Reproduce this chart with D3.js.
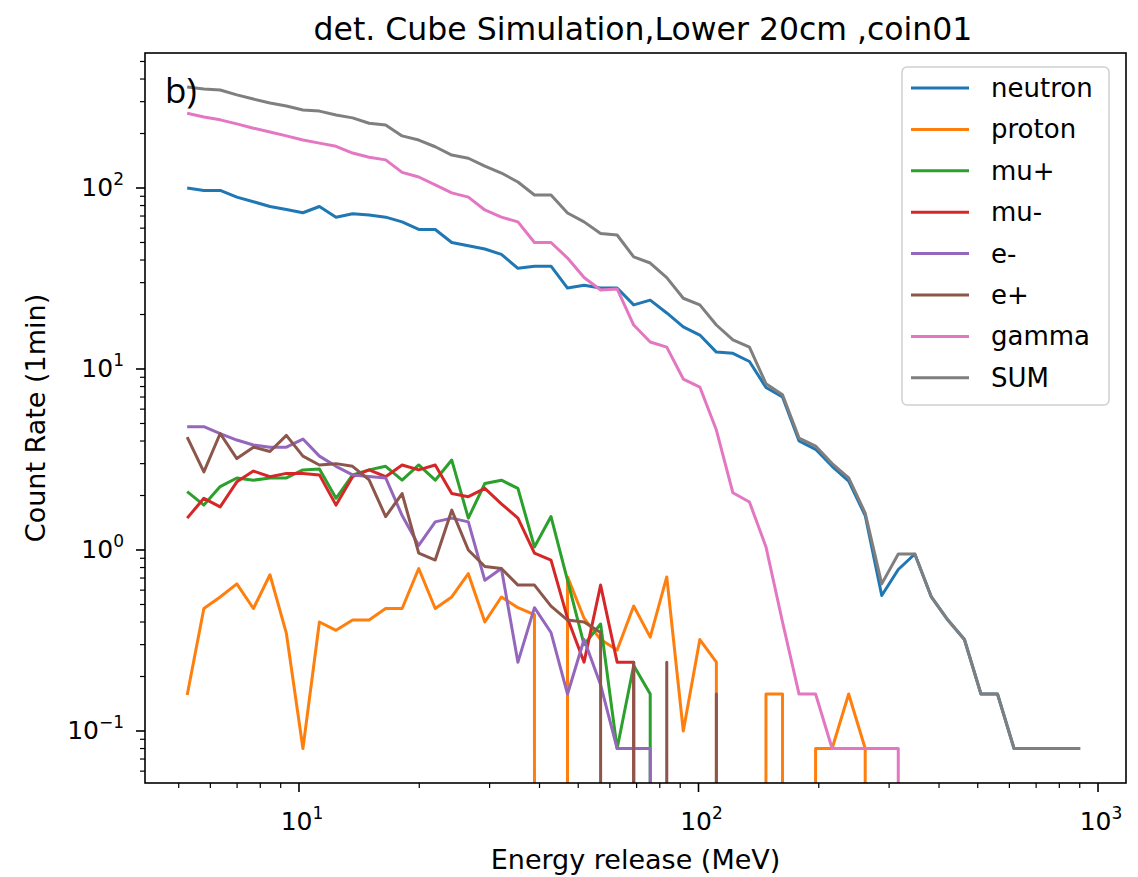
<!DOCTYPE html>
<html>
<head>
<meta charset="utf-8">
<script src="https://cdnjs.cloudflare.com/ajax/libs/d3/7.8.5/d3.min.js"></script>
<style>
  body { margin: 0; background: #fff; }
  text { font-family: "DejaVu Sans", sans-serif; fill: #000; }
</style>
</head>
<body>
<svg id="chart" width="1138" height="877"></svg>
<script>
// Energy bins (MeV)
const energy = [5.25, 5.78, 6.35, 6.99, 7.69, 8.46, 9.30, 10.23, 11.25, 12.38,
  13.62, 14.98, 16.48, 18.12, 19.94, 21.93, 24.12, 26.54, 29.19, 32.11,
  35.32, 38.85, 42.74, 47.01, 51.71, 56.88, 62.57, 68.83, 75.71, 83.28,
  91.61, 100.77, 110.85, 121.93, 134.13, 147.54, 162.29, 178.52, 196.37, 216.01,
  237.61, 261.37, 287.51, 316.26, 347.89, 382.68, 420.94, 463.04, 509.34, 560.27,
  616.30, 677.93, 745.73, 820.30, 902.33];

// Count rates per particle (0 = no counts, drawn off the bottom like matplotlib)
const neutron = [100, 97, 97, 89, 84, 79, 76, 73, 79, 69,
  72, 71, 69, 65, 59, 59, 50, 48, 46, 43,
  36, 37, 37, 28, 29, 28, 28, 22.6, 24, 20.4,
  17.1, 15.4, 12.4, 12.2, 11, 7.9, 7.0, 4.0, 3.6, 2.9,
  2.4, 1.55, 0.56, 0.78, 0.95, 0.55, 0.41, 0.32, 0.16, 0.16,
  0.08, 0.08, 0.08, 0.08, 0.08];
const proton = [0.158, 0.475, 0.55, 0.65, 0.475, 0.73, 0.346, 0.08, 0.40, 0.36,
  0.41, 0.41, 0.475, 0.475, 0.79, 0.475, 0.55, 0.74, 0.40, 0.55,
  0.48, 0.44, 0, 0.71, 0.42, 0.32, 0.28, 0.49, 0.33, 0.71,
  0.1, 0.32, 0.24, 0, 0, 0.16, 0.16, 0, 0.08, 0.08,
  0.16, 0.08, 0, 0, 0, 0, 0, 0, 0, 0,
  0, 0, 0, 0, 0];
const muPlus = [2.1, 1.77, 2.24, 2.5, 2.43, 2.5, 2.5, 2.77, 2.8, 1.93,
  2.6, 2.77, 2.9, 2.43, 2.95, 2.43, 3.14, 1.5, 2.33, 2.43,
  2.19, 1.04, 1.53, 0.68, 0.30, 0.39, 0.08, 0.23, 0.16, 0,
  0, 0, 0, 0, 0, 0, 0, 0, 0, 0,
  0, 0, 0, 0, 0, 0, 0, 0, 0, 0,
  0, 0, 0, 0, 0];
const muMinus = [1.5, 1.93, 1.73, 2.38, 2.73, 2.54, 2.65, 2.65, 2.6, 1.77,
  2.54, 2.77, 2.54, 2.95, 2.77, 2.95, 2.05, 1.97, 2.19, 1.8,
  1.5, 0.96, 0.88, 0.42, 0.24, 0.64, 0.24, 0.24, 0, 0,
  0, 0, 0, 0, 0, 0, 0, 0, 0, 0,
  0, 0, 0, 0, 0, 0, 0, 0, 0, 0,
  0, 0, 0, 0, 0];
const eMinus = [4.8, 4.8, 4.4, 4.05, 3.8, 3.7, 3.7, 4.1, 3.3, 2.9,
  2.6, 2.55, 2.5, 1.55, 1.06, 1.43, 1.5, 1.43, 0.68, 0.79,
  0.24, 0.48, 0.35, 0.16, 0.32, 0.18, 0.08, 0.08, 0.08, 0,
  0, 0, 0, 0, 0, 0, 0, 0, 0, 0,
  0, 0, 0, 0, 0, 0, 0, 0, 0, 0,
  0, 0, 0, 0, 0];
const ePlus = [4.2, 2.7, 4.4, 3.2, 3.7, 3.5, 4.3, 3.3, 2.95, 3.0,
  2.9, 2.44, 1.53, 2.05, 0.96, 0.88, 1.66, 1.0, 0.81, 0.79,
  0.64, 0.64, 0.49, 0.41, 0.40, 0.35, 0, 0.24, 0, 0.24,
  0, 0, 0.16, 0, 0, 0, 0, 0, 0, 0,
  0, 0, 0, 0, 0, 0, 0, 0, 0, 0,
  0, 0, 0, 0, 0];
const gamma = [259, 247, 238, 226, 214, 204, 194, 184, 177, 170,
  156, 148, 143, 122, 115, 104, 94, 89, 75.6, 69,
  65, 50, 50, 41, 32, 27.3, 27.7, 17.5, 14.1, 13.2,
  8.8, 7.95, 4.6, 2.07, 1.84, 1.04, 0.4, 0.16, 0.16, 0.08,
  0.08, 0.08, 0.08, 0.08, 0, 0, 0, 0, 0, 0,
  0, 0, 0, 0, 0];
const total = [361, 352, 348, 327, 310, 295, 284, 270, 266, 253,
  244, 228, 223, 194, 184, 169, 152, 146, 132, 121,
  108, 91.5, 91.5, 72.8, 65, 56, 55, 41.6, 38.5, 32,
  24.6, 22.6, 17.5, 14.5, 13.2, 8.3, 7.2, 4.15, 3.75, 3.0,
  2.5, 1.6, 0.65, 0.95, 0.95, 0.55, 0.41, 0.32, 0.16, 0.16,
  0.08, 0.08, 0.08, 0.08, 0.08];

const labels = ["neutron", "proton", "mu+", "mu-", "e-", "e+", "gamma", "SUM"];
const colors = ["#1f77b4", "#ff7f0e", "#2ca02c", "#d62728", "#9467bd", "#8c564b", "#e377c2", "#7f7f7f"];
const seriesValues = [neutron, proton, muPlus, muMinus, eMinus, ePlus, gamma, total];

const xMajor = [10, 100, 1000];
const xMajorExp = ["1", "2", "3"];
const yMajor = [0.1, 1, 10, 100];
const yMajorExp = ["\u22121", "0", "1", "2"];

// plot box
const plotLeft = 145, plotRight = 1126, plotTop = 53, plotBottom = 783;

const svg = d3.select("#chart");

const x = d3.scaleLog().domain([4.117, 1175]).range([plotLeft, plotRight]);
const y = d3.scaleLog().domain([0.0516, 557]).range([plotBottom, plotTop]);

svg.append("defs").append("clipPath").attr("id", "plot-clip")
  .append("rect")
  .attr("x", plotLeft).attr("y", plotTop)
  .attr("width", plotRight - plotLeft).attr("height", plotBottom - plotTop);

// zero counts go far below the axis (log scale clipping)
const line = d3.line()
  .x((d, i) => x(energy[i]))
  .y(d => d > 0 ? y(d) : plotBottom + 100000);

const lines = svg.append("g").attr("clip-path", "url(#plot-clip)");
seriesValues.forEach((vals, k) => {
  lines.append("path")
    .datum(vals)
    .attr("d", line)
    .attr("fill", "none")
    .attr("stroke", colors[k])
    .attr("stroke-width", 3)
    .attr("stroke-linejoin", "round");
});

// frame
svg.append("rect")
  .attr("x", plotLeft).attr("y", plotTop)
  .attr("width", plotRight - plotLeft).attr("height", plotBottom - plotTop)
  .attr("fill", "none").attr("stroke", "#000").attr("stroke-width", 1.6);

// minor ticks
const xMinor = [];
const yMinor = [];
[1, 10, 100, 1000].forEach(p => d3.range(2, 10).forEach(m => {
  const v = m * p;
  if (v > x.domain()[0] && v < x.domain()[1]) xMinor.push(v);
}));
[0.01, 0.1, 1, 10, 100].forEach(p => d3.range(2, 10).forEach(m => {
  const v = m * p;
  if (v > y.domain()[0] && v < y.domain()[1]) yMinor.push(v);
}));

const ticks = svg.append("g").attr("stroke", "#000");
xMinor.forEach(v => ticks.append("line")
  .attr("x1", x(v)).attr("x2", x(v)).attr("y1", plotBottom).attr("y2", plotBottom + 5)
  .attr("stroke-width", 1.2));
xMajor.forEach(v => ticks.append("line")
  .attr("x1", x(v)).attr("x2", x(v)).attr("y1", plotBottom).attr("y2", plotBottom + 9)
  .attr("stroke-width", 1.6));
yMinor.forEach(v => ticks.append("line")
  .attr("y1", y(v)).attr("y2", y(v)).attr("x1", plotLeft).attr("x2", plotLeft - 5)
  .attr("stroke-width", 1.2));
yMajor.forEach(v => ticks.append("line")
  .attr("y1", y(v)).attr("y2", y(v)).attr("x1", plotLeft).attr("x2", plotLeft - 9)
  .attr("stroke-width", 1.6));

// tick labels like 10^n
function powLabel(px, py, exp, anchor) {
  const t = svg.append("text")
    .attr("x", px).attr("y", py)
    .attr("text-anchor", anchor)
    .style("font-size", "25px");
  t.append("tspan").text("10");
  t.append("tspan").attr("dy", -11).style("font-size", "17px").text(exp);
}
xMajor.forEach((v, i) => powLabel(x(v) + 3, plotBottom + 47, xMajorExp[i], "middle"));
yMajor.forEach((v, i) => powLabel(plotLeft - 21, y(v) + 8, yMajorExp[i], "end"));

// titles
svg.append("text")
  .attr("x", 643).attr("y", 40)
  .attr("text-anchor", "middle")
  .style("font-size", "31.5px")
  .text("det. Cube Simulation,Lower 20cm ,coin01");

svg.append("text")
  .attr("x", (plotLeft + plotRight) / 2).attr("y", 869)
  .attr("text-anchor", "middle")
  .style("font-size", "27px")
  .text("Energy release (MeV)");

svg.append("text")
  .attr("transform", `translate(45,${(plotTop + plotBottom) / 2}) rotate(-90)`)
  .attr("text-anchor", "middle")
  .style("font-size", "27px")
  .text("Count Rate (1min)");

svg.append("text")
  .attr("x", 165).attr("y", 103)
  .style("font-family", "'Open Sans', sans-serif")
  .style("font-size", "35px")
  .text("b)");

// legend
const legend = svg.append("g");
legend.append("rect")
  .attr("x", 902).attr("y", 67).attr("width", 207).attr("height", 338)
  .attr("rx", 5)
  .attr("fill", "#fff").attr("fill-opacity", 0.8)
  .attr("stroke", "#d0d0d0").attr("stroke-width", 1.5);
labels.forEach((name, k) => {
  const ly = 88 + k * 41.4;
  legend.append("line")
    .attr("x1", 911).attr("x2", 969).attr("y1", ly).attr("y2", ly)
    .attr("stroke", colors[k]).attr("stroke-width", 3);
  legend.append("text")
    .attr("x", 991).attr("y", ly + 9)
    .style("font-size", "26px")
    .text(name);
});
</script>
</body>
</html>
